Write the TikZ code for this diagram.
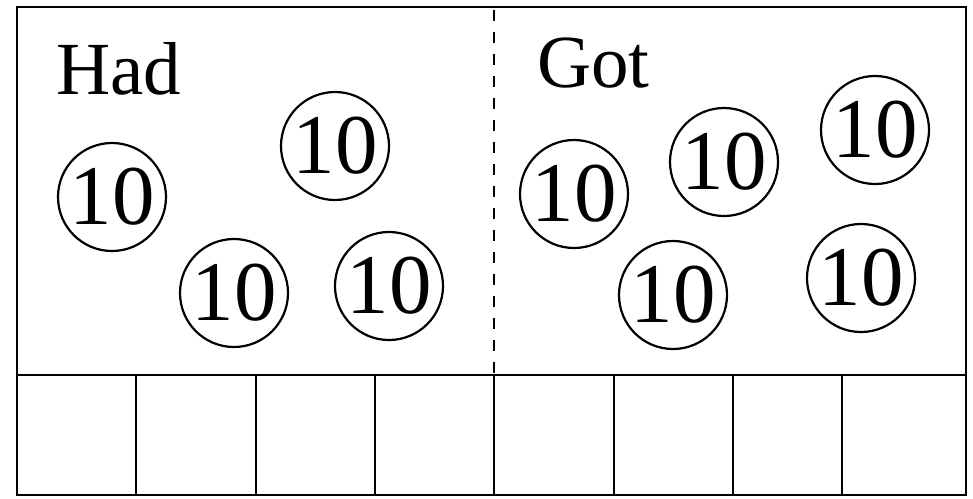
\documentclass[tikz,border=0pt]{standalone}
\usepackage{fontspec}
\setmainfont{Liberation Serif}
\usepackage{tikz}
\usetikzlibrary{positioning}

\begin{document}
\begin{tikzpicture}[
        x=1pt, y=-1pt,
        coin/.style={circle, draw, line width=2.2pt, minimum size=108pt, inner sep=0pt, font=\fontsize{85}{85}\selectfont},
        heading/.style={anchor=base west, inner sep=0pt, font=\fontsize{75}{75}\selectfont},
        frameline/.style={line width=2.8pt},
        cellline/.style={line width=1.7pt}
    ]
        \useasboundingbox (0,0) rectangle (973,498);
        % outer frame and table row
        \draw[frameline] (17,7) rectangle (966,495);
        \draw[frameline] (17,375) -- (966,375);
        \foreach \x in {136,256,375,494,614,733,842}
            \draw[cellline] (\x,375) -- (\x,495);
        \draw[line width=1.9pt, dash pattern=on 11pt off 11pt] (494,10) -- (494,375);
        % labels
        \node[heading] (had) at (56,94) {Had};
        \node[heading] (got) at (537,87) {Got};
        % coins
        \node[coin] (had1) at (112,197) {10};
        \node[coin] (had2) at (335,146) {10};
        \node[coin] (had3) at (234,293) {10};
        \node[coin] (had4) at (389,286) {10};
        \node[coin] (got1) at (574,194) {10};
        \node[coin] (got2) at (724,162) {10};
        \node[coin] (got3) at (875,130) {10};
        \node[coin] (got4) at (673,295) {10};
        \node[coin] (got5) at (861,278) {10};
    \end{tikzpicture}
\end{document}
